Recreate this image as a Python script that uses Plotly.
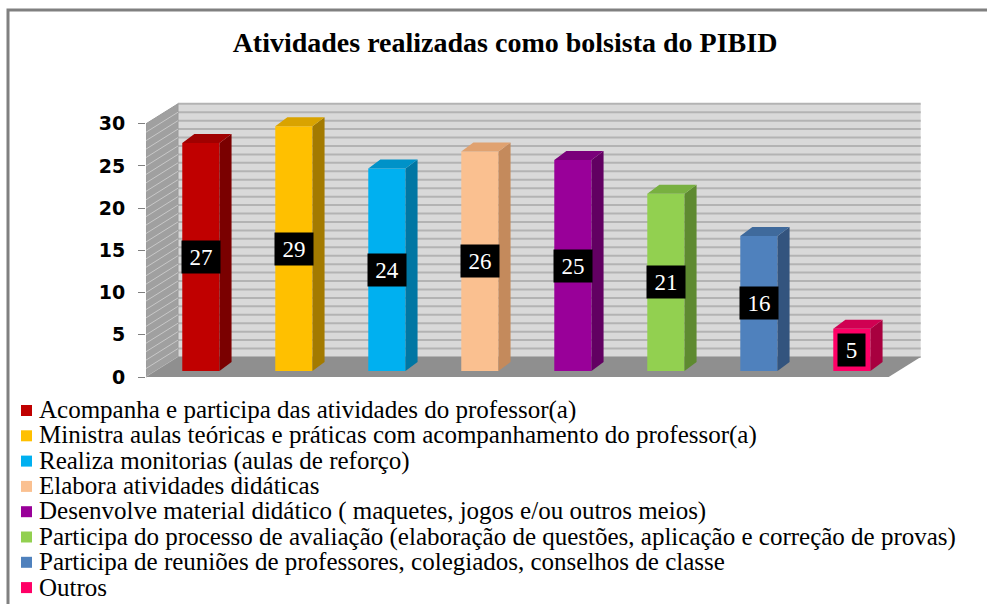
import plotly.graph_objects as go

# ---------------- data ----------------
categories = [
    "Acompanha e participa das atividades do professor(a)",
    "Ministra aulas teóricas e práticas com acompanhamento do professor(a)",
    "Realiza monitorias (aulas de reforço)",
    "Elabora atividades didáticas",
    "Desenvolve material didático ( maquetes, jogos e/ou outros meios)",
    "Participa do processo de avaliação (elaboração de questões, aplicação e correção de provas)",
    "Participa de reuniões de professores, colegiados, conselhos de classe",
    "Outros",
]
values = [27, 29, 24, 26, 25, 21, 16, 5]
front_colors = ["#C00000", "#FFC000", "#00B0F0", "#FAC090", "#990099", "#92D050", "#4F81BD", "#FF0066"]
side_colors = ["#7A0000", "#A37A00", "#0076A3", "#C48A5C", "#620062", "#5E8A30", "#33547E", "#A8003F"]
top_colors = ["#A00000", "#D9A300", "#0092C8", "#E0A270", "#7A007A", "#78B040", "#3F6A9C", "#D00052"]
tick_vals = [0, 5, 10, 15, 20, 25, 30]
title_text = "Atividades realizadas como bolsista do PIBID"

# ---------------- geometry (styles) ----------------
W, H = 987, 604
ML, MR, MT, MB = 146, 57, 95, 224
PW, PH = W - ML - MR, H - MT - MB


def px_x(p):
    return (p - ML) / PW


def px_y(p):
    return (H - MB - p) / PH


BAR_W = 0.40          # bar width in category units
BAR_BASE = 0.71       # bars sit slightly inside the floor
DDX, DDY = 0.13, 1.07 # bar depth offsets
WDX, WDY = 0.344, 2.37  # wall depth offsets
X_FL = -0.59          # front-left corner of floor
X_BR = 7.74           # back-right corner
Y_MAX_AX = 30

fig = go.Figure()

# ---- walls & floor as shapes ----
shapes = []
shapes.append(dict(type="rect", xref="x", yref="y", x0=X_FL + WDX, x1=X_BR, y0=WDY, y1=Y_MAX_AX + WDY,
                   fillcolor="#D9D9D9", line=dict(width=0), layer="below"))
for k in range(0, Y_MAX_AX + 1):
    shapes.append(dict(type="line", xref="x", yref="y", x0=X_FL + WDX, x1=X_BR, y0=k + WDY, y1=k + WDY,
                       line=dict(color="#B3B3B3", width=2), layer="below"))
shapes.append(dict(type="path", xref="x", yref="y",
                   path=f"M {X_FL},0 L {X_FL},{Y_MAX_AX} L {X_FL + WDX},{Y_MAX_AX + WDY} L {X_FL + WDX},{WDY} Z",
                   fillcolor="#A0A0A0", line=dict(color="#9A9A9A", width=1), layer="below"))
for k in range(0, Y_MAX_AX):
    shapes.append(dict(type="line", xref="x", yref="y", x0=X_FL, x1=X_FL + WDX, y0=k, y1=k + WDY,
                       line=dict(color="#C8C8C8", width=1), layer="below"))
shapes.append(dict(type="path", xref="x", yref="y",
                   path=f"M {X_FL},0 L {X_BR - WDX},0 L {X_BR},{WDY} L {X_FL + WDX},{WDY} Z",
                   fillcolor="#8F8F8F", line=dict(width=0), layer="below"))
# outer frame (open on the right and bottom edges of the picture)
shapes.append(dict(type="rect", xref="paper", yref="paper", x0=px_x(8), x1=px_x(996), y0=px_y(614), y1=px_y(10),
                   line=dict(color="#808080", width=3), fillcolor="rgba(0,0,0,0)"))

# ---- bars (front faces) ----
for i, (cat, v) in enumerate(zip(categories, values)):
    fig.add_trace(go.Bar(
        x=[i], y=[v], base=[BAR_BASE], width=BAR_W, name=cat,
        marker=dict(color=front_colors[i], line=dict(width=0)),
        hoverinfo="skip", showlegend=False,
    ))

# ---- side and top faces ----
for i, v in enumerate(values):
    xr = i + BAR_W / 2
    xl = i - BAR_W / 2
    top = BAR_BASE + v
    fig.add_trace(go.Scatter(
        x=[xr, xr + DDX, xr + DDX, xr, xr],
        y=[BAR_BASE, BAR_BASE + DDY, top + DDY, top, BAR_BASE],
        fill="toself", fillcolor=side_colors[i], mode="lines", line=dict(width=0),
        showlegend=False, hoverinfo="skip"))
    fig.add_trace(go.Scatter(
        x=[xl, xr, xr + DDX, xl + DDX, xl],
        y=[top, top, top + DDY, top + DDY, top],
        fill="toself", fillcolor=top_colors[i], mode="lines", line=dict(width=0),
        showlegend=False, hoverinfo="skip"))

# ---- value labels ----
annotations = []
for i, v in enumerate(values):
    annotations.append(dict(
        x=i, y=BAR_BASE + v / 2, xref="x", yref="y", text=str(v), showarrow=False,
        font=dict(family="Liberation Serif", size=23, color="white"),
        bgcolor="black", width=14 + 11 * len(str(v)), height=30, align="center",
    ))

# ---- legend drawn as squares + text ----
LEG_Y0, LEG_DY = 410, 25.3
for i, cat in enumerate(categories):
    yc = LEG_Y0 + i * LEG_DY
    shapes.append(dict(type="rect", xref="paper", yref="paper",
                       x0=px_x(21), x1=px_x(32), y0=px_y(yc + 6), y1=px_y(yc - 5),
                       fillcolor=front_colors[i], line=dict(width=0)))
    annotations.append(dict(
        x=px_x(37), y=px_y(yc), xref="paper", yref="paper", text=cat, showarrow=False,
        xanchor="left", yanchor="middle",
        font=dict(family="Liberation Serif", size=25, color="black"),
    ))

fig.update_layout(
    width=W, height=H,
    margin=dict(l=ML, r=MR, t=MT, b=MB, autoexpand=False),
    paper_bgcolor="white", plot_bgcolor="white",
    barmode="overlay",
    title=dict(text=f"<b>{title_text}</b>", x=505 / W, xref="container", xanchor="center",
               y=1 - 42 / H, yref="container", yanchor="middle",
               font=dict(family="Liberation Serif", size=28, color="black")),
    xaxis=dict(range=[-0.59, 7.84], showgrid=False, zeroline=False, showticklabels=False,
               ticks="", showline=False, fixedrange=True),
    yaxis=dict(range=[-0.355, 33.41], showgrid=False, zeroline=False, tickvals=tick_vals,
               ticks="outside", ticklen=7, tickcolor="#808080", tickwidth=1, ticklabelstandoff=9,
               tickfont=dict(family="DejaVu Sans", size=19, color="black", weight="bold"),
               showline=False, fixedrange=True),
    shapes=shapes,
    annotations=annotations,
    showlegend=False,
)

fig.write_html("out.html", config={"displayModeBar": False},
               post_script="document.body.style.margin='0';document.body.style.overflow='hidden';")
